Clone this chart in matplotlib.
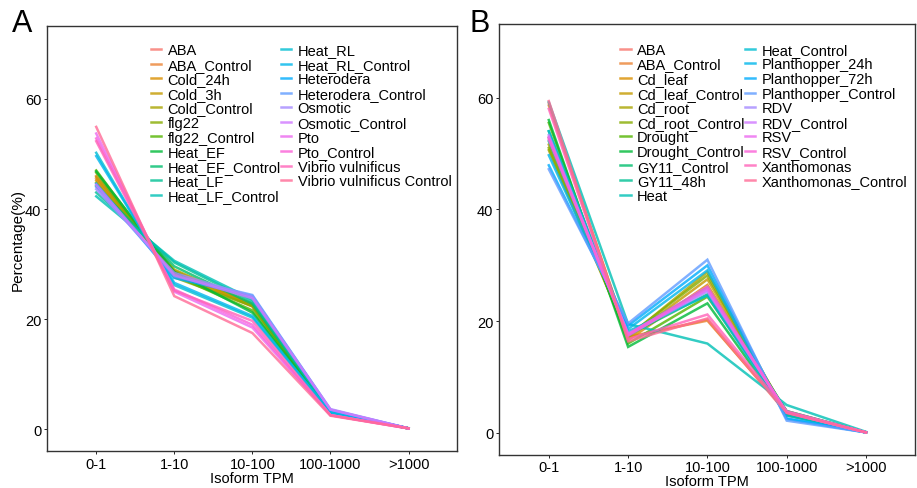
import numpy as np
import matplotlib
matplotlib.use("Agg")
import matplotlib.pyplot as plt

plt.rcParams['font.family'] = ['Liberation Sans', 'DejaVu Sans']

tpm_bins = ["0-1", "1-10", "10-100", "100-1000", ">1000"]

# panel A
a_groups = ["ABA", "ABA_Control", "Cold_24h", "Cold_3h", "Cold_Control", "flg22",
            "flg22_Control", "Heat_EF", "Heat_EF_Control", "Heat_LF", "Heat_LF_Control",
            "Heat_RL", "Heat_RL_Control", "Heterodera", "Heterodera_Control", "Osmotic",
            "Osmotic_Control", "Pto", "Pto_Control", "Vibrio vulnificus",
            "Vibrio vulnificus Control"]
a_values = [
    [45.5, 28.5, 22.5, 3.3, 0.2],
    [46.0, 28.2, 22.3, 3.2, 0.2],
    [45.2, 28.8, 22.6, 3.2, 0.2],
    [45.8, 28.4, 22.4, 3.2, 0.2],
    [44.8, 29.0, 22.8, 3.2, 0.2],
    [46.6, 27.6, 22.4, 3.2, 0.2],
    [47.0, 28.0, 21.6, 3.2, 0.2],
    [46.8, 28.6, 21.2, 3.2, 0.2],
    [44.2, 29.6, 22.8, 3.2, 0.2],
    [43.0, 30.3, 23.2, 3.3, 0.2],
    [42.3, 30.6, 23.6, 3.3, 0.2],
    [50.2, 26.2, 20.3, 3.1, 0.2],
    [49.6, 26.6, 20.6, 3.0, 0.2],
    [44.6, 27.5, 24.2, 3.5, 0.2],
    [44.0, 27.8, 24.4, 3.6, 0.2],
    [43.6, 28.4, 24.1, 3.7, 0.2],
    [44.4, 28.0, 23.8, 3.6, 0.2],
    [53.7, 25.0, 18.5, 2.6, 0.2],
    [52.8, 25.4, 19.0, 2.6, 0.2],
    [52.3, 25.2, 19.7, 2.6, 0.2],
    [54.9, 24.2, 17.5, 2.5, 0.2],
]

# panel B
b_groups = ["ABA", "ABA_Control", "Cd_leaf", "Cd_leaf_Control", "Cd_root",
            "Cd_root_Control", "Drought", "Drought_Control", "GY11_Control", "GY11_48h",
            "Heat", "Heat_Control", "Planthopper_24h", "Planthopper_72h",
            "Planthopper_Control", "RDV", "RDV_Control", "RSV", "RSV_Control",
            "Xanthomonas", "Xanthomonas_Control"]
b_values = [
    [59.0, 17.0, 20.3, 3.5, 0.1],
    [58.6, 17.2, 20.1, 3.8, 0.1],
    [52.8, 16.6, 26.5, 3.8, 0.1],
    [51.6, 17.0, 27.5, 3.6, 0.1],
    [50.6, 17.2, 28.8, 3.2, 0.1],
    [51.0, 17.4, 28.2, 3.2, 0.1],
    [55.5, 16.0, 24.4, 3.9, 0.1],
    [56.0, 15.4, 23.2, 3.3, 0.1],
    [54.0, 17.5, 24.8, 3.6, 0.1],
    [52.2, 17.8, 26.0, 3.9, 0.1],
    [59.2, 19.5, 16.0, 5.0, 0.2],
    [54.0, 18.2, 24.6, 3.1, 0.1],
    [49.7, 18.6, 29.1, 2.5, 0.1],
    [47.9, 19.2, 30.0, 2.6, 0.1],
    [47.2, 19.6, 31.0, 2.2, 0.1],
    [53.3, 17.6, 25.3, 3.7, 0.1],
    [52.8, 17.8, 25.6, 3.7, 0.1],
    [53.0, 17.4, 25.8, 3.7, 0.1],
    [52.5, 17.6, 26.2, 3.6, 0.1],
    [58.0, 16.8, 21.2, 3.9, 0.1],
    [59.4, 16.4, 20.5, 3.6, 0.1],
]


def hue_pal(n, c=100.0, l=65.0):
    # ggplot2 default discrete palette (polar Luv -> sRGB)
    hues = np.linspace(15, 375, n + 1)[:n] % 360
    wy, wu, wv = 100.0, 0.1978398, 0.4683363
    cols = []
    for h in hues:
        hr = np.deg2rad(h)
        U, V = c * np.cos(hr), c * np.sin(hr)
        Y = wy * ((l + 16) / 116) ** 3
        u = U / (13 * l) + wu
        v = V / (13 * l) + wv
        X = 9.0 * Y * u / (4 * v)
        Z = -X / 3 - 5 * Y + 3 * Y / v
        rgb = np.array([3.240479 * X - 1.537150 * Y - 0.498535 * Z,
                        -0.969256 * X + 1.875992 * Y + 0.041556 * Z,
                        0.055648 * X - 0.204043 * Y + 1.057311 * Z]) / wy
        rgb = np.where(rgb > 0.00304, 1.055 * np.abs(rgb) ** (1 / 2.4) - 0.055, 12.92 * rgb)
        cols.append(tuple(np.clip(rgb, 0, 1)))
    return cols


fig = plt.figure(figsize=(9.17, 4.89), dpi=100)
ax_a = fig.add_axes([0.0513, 0.0757, 0.447, 0.869])
ax_b = fig.add_axes([0.544, 0.068, 0.454, 0.881])

x = np.arange(len(tpm_bins))


def draw(ax, groups, values, legend_anchor):
    cols = hue_pal(len(groups))
    for g, v, c in zip(groups, values, cols):
        ax.plot(x, v, color=c, lw=1.8, alpha=0.8, label=g, solid_joinstyle='miter')
    ax.set_xlim(-0.63, 4.62)
    ax.set_ylim(-3.9, 73.2)
    ax.set_xticks(x)
    ax.set_xticklabels(tpm_bins)
    ax.set_yticks([0, 20, 40, 60])
    ax.tick_params(length=2, width=0.6, labelsize=10.5, pad=2, colors='black')
    for s in ax.spines.values():
        s.set_linewidth(1.0)
        s.set_color('#333333')
    ax.set_xlabel("Isoform TPM", fontsize=10.5, labelpad=0)
    ax.legend(ncol=2, loc='upper left', bbox_to_anchor=legend_anchor, frameon=False,
              fontsize=10.5, handlelength=0.7, handletextpad=0.45, columnspacing=0.0,
              labelspacing=0.04, borderpad=0, borderaxespad=0)


draw(ax_a, a_groups, a_values, (0.253, 0.96))
draw(ax_b, b_groups, b_values, (0.292, 0.956))
ax_a.set_ylabel("Percentage(%)", fontsize=11, labelpad=0)

fig.text(0.013, 0.935, "A", fontsize=22)
fig.text(0.512, 0.935, "B", fontsize=22)

fig.savefig("out.png", dpi=100)
